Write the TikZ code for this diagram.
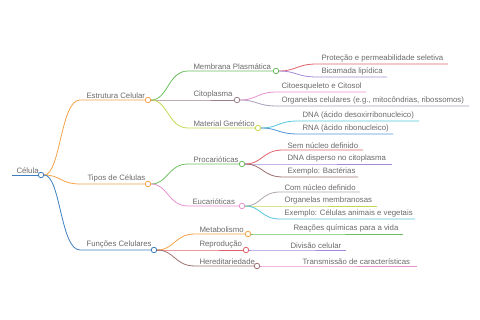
\documentclass[tikz,border=0pt]{standalone}
\usepackage{fontspec}
\setmainfont{Liberation Sans}
\usetikzlibrary{backgrounds}
\definecolor{corange}{HTML}{F4A24A}
\definecolor{cblue}{HTML}{3E7FC0}
\definecolor{cgreen}{HTML}{6CBF5E}
\definecolor{cmauve}{HTML}{9E8088}
\definecolor{cyellow}{HTML}{C5D64F}
\definecolor{cred}{HTML}{E0626A}
\definecolor{cpurple}{HTML}{A48AD8}
\definecolor{cpink}{HTML}{E98FD0}
\definecolor{cmgray}{HTML}{A8A0B8}
\definecolor{ccyan}{HTML}{55C6DB}
\definecolor{cbleaf}{HTML}{4E95D6}
\definecolor{cbrown}{HTML}{A07070}
\definecolor{cgray}{HTML}{B0A8A8}
\definecolor{textgray}{HTML}{6A6A6A}
\newcommand\mmcurve[6]{\draw[br=#1] (#2) .. controls ({(#3+#5)/2},#4) and ({(#3+#5)/2},#6) .. (#5,#6)}
\begin{document}
\begin{tikzpicture}[x=1pt,y=-1pt,
  lab/.style={anchor=south west, inner sep=1.3pt, font=\fontsize{7.8}{8}\selectfont, text=textgray},
  dot/.style={circle, draw=#1, fill=white, line width=0.8pt, minimum size=5.5pt, inner sep=0pt},
  br/.style={draw=#1, line width=0.8pt}]
\useasboundingbox (0,0) rectangle (480,320);
% root
\node[dot=cblue] (cRoot) at (41,175) {};
\node[lab] (tRoot) at (15,175) {Célula};
\coordinate (sRoot) at (12,175);
% level 1
\node[dot=corange] (cEst) at (148,100) {};
\node[lab] (tEst) at (85,100) {Estrutura Celular};
\node[dot=corange] (cTip) at (148,184) {};
\node[lab] (tTip) at (86,184) {Tipos de Células};
\node[dot=cblue] (cFun) at (154,250) {};
\node[lab] (tFun) at (85,250) {Funções Celulares};
% level 2
\node[dot=cgreen] (cMem) at (276,71) {};
\node[lab] (tMem) at (192,71) {Membrana Plasmática};
\node[dot=cmauve] (cCit) at (237,100) {};
\node[lab] (tCit) at (192,100) {Citoplasma};
\node[dot=cyellow] (cMat) at (258,128) {};
\node[lab] (tMat) at (192,128) {Material Genético};
\node[dot=cgreen] (cPro) at (242,164) {};
\node[lab] (tPro) at (192,164) {Procarióticas};
\node[dot=cpink] (cEuc) at (242,206) {};
\node[lab] (tEuc) at (191,206) {Eucarióticas};
\node[dot=corange] (cMet) at (248,234) {};
\node[lab] (tMet) at (198,234) {Metabolismo};
\node[dot=cred] (cRep) at (246,250) {};
\node[lab] (tRep) at (198,250) {Reprodução};
\node[dot=cbrown] (cHer) at (257,266) {};
\node[lab] (tHer) at (198,266) {Hereditariedade};
% leaves
\node[lab] (tProt) at (320,64) {Proteção e permeabilidade seletiva};
\coordinate (eProt) at (448,64);
\node[lab] (tBic) at (320,77) {Bicamada lipídica};
\coordinate (eBic) at (387,77);
\node[lab] (tCito) at (280,92) {Citoesqueleto e Citosol};
\coordinate (eCito) at (366,92);
\node[lab] (tOrg) at (280,106) {Organelas celulares (e.g., mitocôndrias, ribossomos)};
\coordinate (eOrg) at (469,106);
\node[lab] (tDNA) at (301,121) {DNA (ácido desoxirribonucleico)};
\coordinate (eDNA) at (419,121);
\node[lab] (tRNA) at (301,134) {RNA (ácido ribonucleico)};
\coordinate (eRNA) at (393,134);
\node[lab] (tSem) at (286,150) {Sem núcleo definido};
\coordinate (eSem) at (363,150);
\node[lab] (tDNAd) at (286,164) {DNA disperso no citoplasma};
\coordinate (eDNAd) at (392,164);
\node[lab] (tExB) at (286,177) {Exemplo: Bactérias};
\coordinate (eExB) at (358,177);
\node[lab] (tCom) at (283,192) {Com núcleo definido};
\coordinate (eCom) at (360,192);
\node[lab] (tOrgM) at (283,206) {Organelas membranosas};
\coordinate (eOrgM) at (377,206);
\node[lab] (tExC) at (283,219) {Exemplo: Células animais e vegetais};
\coordinate (eExC) at (415,219);
\node[lab] (tRea) at (292,234) {Reações químicas para a vida};
\coordinate (eRea) at (403,234);
\node[lab] (tDiv) at (289,250) {Divisão celular};
\coordinate (eDiv) at (346,250);
\node[lab] (tTra) at (301,266) {Transmissão de características};
\coordinate (eTra) at (417,266);
\begin{pgfonlayer}{background}
\draw[br=cblue] (sRoot) -- (cRoot);
\mmcurve{corange}{cRoot}{41}{175}{80}{100} -- (cEst);
\mmcurve{corange}{cRoot}{41}{175}{80}{184} -- (cTip);
\mmcurve{cblue}{cRoot}{41}{175}{80}{250} -- (cFun);
\mmcurve{cgreen}{cEst}{148}{100}{188}{71} -- (cMem);
\mmcurve{cmauve}{cEst}{148}{100}{188}{100} -- (cCit);
\mmcurve{cyellow}{cEst}{148}{100}{188}{128} -- (cMat);
\mmcurve{cgreen}{cTip}{148}{184}{188}{164} -- (cPro);
\mmcurve{cpink}{cTip}{148}{184}{188}{206} -- (cEuc);
\mmcurve{corange}{cFun}{154}{250}{195}{234} -- (cMet);
\mmcurve{cred}{cFun}{154}{250}{195}{250} -- (cRep);
\mmcurve{cbrown}{cFun}{154}{250}{195}{266} -- (cHer);
\mmcurve{cred}{cMem}{276}{71}{317}{64} -- (eProt);
\mmcurve{cpurple}{cMem}{276}{71}{317}{77} -- (eBic);
\mmcurve{cpink}{cCit}{237}{100}{277}{92} -- (eCito);
\mmcurve{cmgray}{cCit}{237}{100}{277}{106} -- (eOrg);
\mmcurve{ccyan}{cMat}{258}{128}{298}{121} -- (eDNA);
\mmcurve{cbleaf}{cMat}{258}{128}{298}{134} -- (eRNA);
\mmcurve{cred}{cPro}{242}{164}{283}{150} -- (eSem);
\mmcurve{cpurple}{cPro}{242}{164}{283}{164} -- (eDNAd);
\mmcurve{cbrown}{cPro}{242}{164}{283}{177} -- (eExB);
\mmcurve{cgray}{cEuc}{242}{206}{280}{192} -- (eCom);
\mmcurve{cyellow}{cEuc}{242}{206}{280}{206} -- (eOrgM);
\mmcurve{ccyan}{cEuc}{242}{206}{280}{219} -- (eExC);
\mmcurve{cgreen}{cMet}{248}{234}{289}{234} -- (eRea);
\mmcurve{cpurple}{cRep}{246}{250}{286}{250} -- (eDiv);
\mmcurve{cpink}{cHer}{257}{266}{298}{266} -- (eTra);
\end{pgfonlayer}
\end{tikzpicture}
\end{document}
